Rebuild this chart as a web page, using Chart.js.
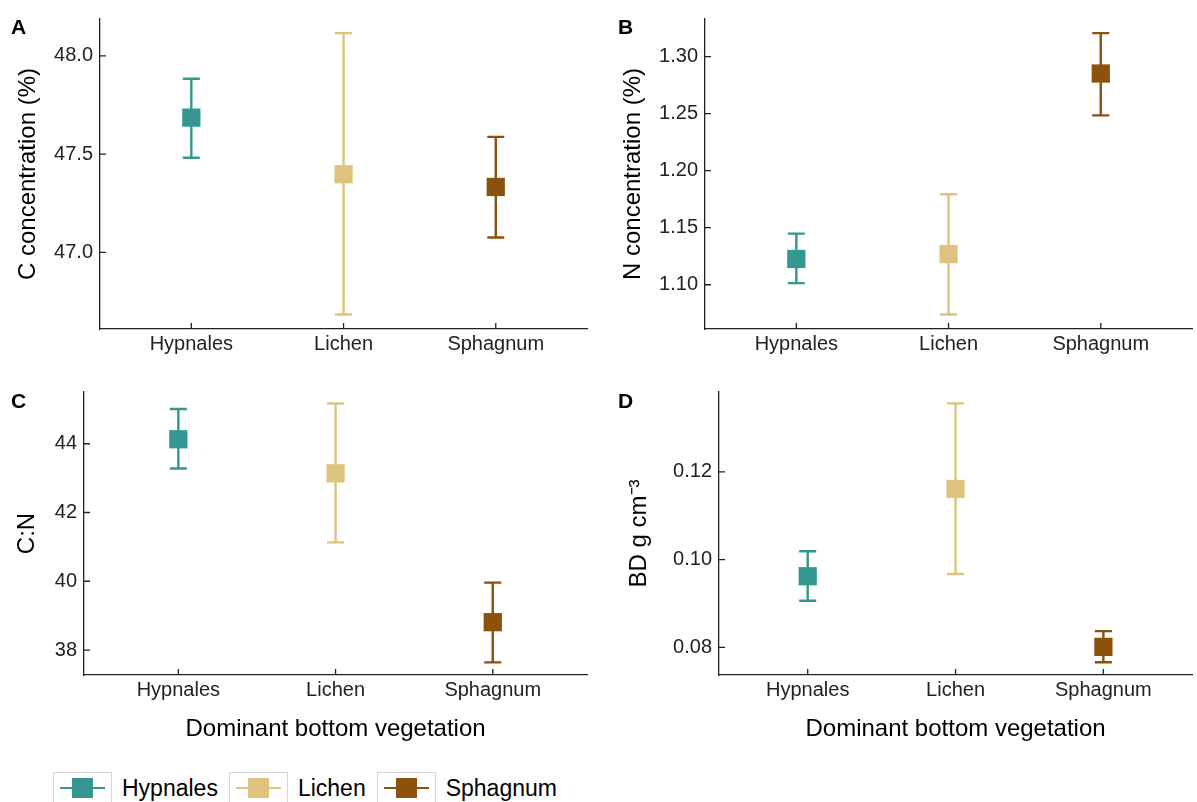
<!DOCTYPE html>
<html>
<head>
<meta charset="utf-8">
<script src="https://cdn.jsdelivr.net/npm/chart.js@4.4.1/dist/chart.umd.min.js"></script>
<style>
  body { margin: 0; background: #fff; width: 1197px; height: 802px; overflow: hidden; position: relative;
         font-family: "Liberation Sans", Arial, sans-serif; }
  canvas { position: absolute; }
  .tag { position: absolute; font-weight: bold; font-size: 21px; line-height: 1; color: #000; }
  #legend { position: absolute; left: 53px; top: 772px; display: flex; align-items: center; }
  .key { width: 57px; height: 30px; border: 1px solid #d6d6d6; position: relative; }
  .key .ln { position: absolute; left: 6px; right: 6px; top: 13.8px; height: 2.5px; }
  .key .sq { position: absolute; left: 18px; top: 5px; width: 21px; height: 20px; }
  .lbl { font-size: 23px; margin: 0 11px 0 10px; color: #000; }
</style>
</head>
<body>
<canvas id="chartC" width="600" height="372" style="left:0;top:0"></canvas>
<canvas id="chartN" width="605" height="372" style="left:600px;top:0"></canvas>
<canvas id="chartCN" width="600" height="388" style="left:0;top:372px"></canvas>
<canvas id="chartBD" width="605" height="388" style="left:600px;top:372px"></canvas>
<div class="tag" style="left:11px;top:16px">A</div>
<div class="tag" style="left:618px;top:16px">B</div>
<div class="tag" style="left:11px;top:390px">C</div>
<div class="tag" style="left:618px;top:390px">D</div>
<div id="legend"></div>
<script>
const groups = ["Hypnales", "Lichen", "Sphagnum"];
const groupColors = ["#35978f", "#dfc27d", "#8c510a"];

// C concentration (%)
const cMean = [47.686, 47.398, 47.333];
const cLow = [47.482, 46.684, 47.076];
const cHigh = [47.884, 48.116, 47.588];
const cTicks = [47.0, 47.5, 48.0];

// N concentration (%)
const nMean = [1.1226, 1.1269, 1.2852];
const nLow = [1.1014, 1.0739, 1.2485];
const nHigh = [1.1448, 1.1793, 1.3206];
const nTicks = [1.10, 1.15, 1.20, 1.25, 1.30];

// C:N ratio
const cnMean = [44.13, 43.14, 38.81];
const cnLow = [43.28, 41.13, 37.64];
const cnHigh = [45.01, 45.17, 39.96];
const cnTicks = [38, 40, 42, 44];

// bulk density
const bdMean = [0.0962, 0.1161, 0.0801];
const bdLow = [0.0906, 0.0967, 0.0766];
const bdHigh = [0.1019, 0.1356, 0.0837];
const bdTicks = [0.08, 0.10, 0.12];

const FONT = "'Liberation Sans', Arial, sans-serif";
const AXIS = "#222";

// vertical error bars with caps, drawn under the squares
const errorBars = {
  id: "errorBars",
  beforeDatasetsDraw(chart) {
    const { ctx } = chart;
    const x = chart.scales.x, y = chart.scales.y;
    ctx.save();
    ctx.lineWidth = 2.4;
    chart.data.datasets.forEach((ds) => {
      ds.data.forEach((pt, i) => {
        const px = x.getPixelForValue(pt.x);
        const top = y.getPixelForValue(ds.high[i]);
        const bot = y.getPixelForValue(ds.low[i]);
        ctx.strokeStyle = ds.borderColor;
        ctx.beginPath();
        ctx.moveTo(px, top); ctx.lineTo(px, bot);
        ctx.moveTo(px - 8.5, top); ctx.lineTo(px + 8.5, top);
        ctx.moveTo(px - 8.5, bot); ctx.lineTo(px + 8.5, bot);
        ctx.stroke();
      });
    });
    ctx.restore();
  }
};

// short tick marks pointing into the plot area
const innerTicks = {
  id: "innerTicks",
  afterDraw(chart) {
    const { ctx, chartArea } = chart;
    const x = chart.scales.x, y = chart.scales.y;
    ctx.save();
    ctx.strokeStyle = AXIS;
    ctx.lineWidth = 1.3;
    ctx.beginPath();
    x.ticks.forEach((t, i) => {
      const px = x.getPixelForTick(i);
      ctx.moveTo(px, chartArea.bottom);
      ctx.lineTo(px, chartArea.bottom - 6);
    });
    y.ticks.forEach((t, i) => {
      const py = y.getPixelForTick(i);
      ctx.moveTo(chartArea.left, py);
      ctx.lineTo(chartArea.left + 6, py);
    });
    ctx.stroke();
    ctx.restore();
  }
};

function makePanel(id, p) {
  new Chart(document.getElementById(id), {
    type: "scatter",
    data: {
      datasets: groups.map((g, i) => ({
        label: g,
        data: [{ x: i + 1, y: p.mean[i] }],
        low: [p.low[i]],
        high: [p.high[i]],
        backgroundColor: groupColors[i],
        borderColor: groupColors[i],
        pointStyle: "rect",
        pointRadius: 12.9,
        pointBorderWidth: 0,
        pointHoverRadius: 12.9,
      })),
    },
    options: {
      responsive: false,
      animation: false,
      layout: { padding: { top: p.padTop, right: p.padRight, left: 0, bottom: 0 } },
      plugins: { legend: { display: false }, tooltip: { enabled: false } },
      scales: {
        x: {
          type: "linear",
          min: 0.4,
          max: 3.6,
          afterBuildTicks: (s) => { s.ticks = groups.map((g, i) => ({ value: i + 1 })); },
          afterFit: (s) => { s.height = p.xHeight; },
          ticks: {
            callback: (v) => groups[Math.round(v) - 1],
            font: { family: FONT, size: 20 },
            color: "#222",
            padding: 3,
            maxRotation: 0,
            autoSkip: false,
          },
          grid: { drawOnChartArea: false, drawTicks: false },
          border: { color: AXIS, width: 1.3 },
          title: {
            display: !!p.xTitle,
            text: p.xTitle || "",
            color: "#000",
            font: { family: FONT, size: 24 },
            padding: { top: 0, bottom: 16 },
          },
        },
        y: {
          min: p.yMin,
          max: p.yMax,
          afterBuildTicks: (s) => { s.ticks = p.ticks.map((v) => ({ value: v })); },
          afterFit: (s) => { s.width = p.yWidth; },
          ticks: {
            callback: (v) => v.toFixed(p.digits),
            font: { family: FONT, size: 20 },
            color: "#222",
            padding: 7,
          },
          grid: { drawOnChartArea: false, drawTicks: false },
          border: { color: AXIS, width: 1.3 },
          title: {
            display: true,
            text: p.yTitle,
            color: "#000",
            font: { family: FONT, size: 24 },
            padding: { top: p.yTitlePad, bottom: 0 },
          },
        },
      },
    },
    plugins: [errorBars, innerTicks],
  });
}

makePanel("chartC", {
  mean: cMean, low: cLow, high: cHigh, ticks: cTicks, digits: 1,
  yMin: 46.61, yMax: 48.188, yTitle: "C concentration (%)",
  padTop: 16, padRight: 5, yWidth: 100, xHeight: 43, yTitlePad: 14,
});
makePanel("chartN", {
  mean: nMean, low: nLow, high: nHigh, ticks: nTicks, digits: 2,
  yMin: 1.0612, yMax: 1.333, yTitle: "N concentration (%)",
  padTop: 16, padRight: 2, yWidth: 105, xHeight: 43, yTitlePad: 19,
});
makePanel("chartCN", {
  mean: cnMean, low: cnLow, high: cnHigh, ticks: cnTicks, digits: 0,
  yMin: 37.274, yMax: 45.505, yTitle: "C:N", xTitle: "Dominant bottom vegetation",
  padTop: 20, padRight: 5, yWidth: 84, xHeight: 85, yTitlePad: 12.6,
});
makePanel("chartBD", {
  mean: bdMean, low: bdLow, high: bdHigh, ticks: bdTicks, digits: 2,
  yMin: 0.07369, yMax: 0.1382, yTitle: "BD g cm\u207B\u00B3", xTitle: "Dominant bottom vegetation",
  padTop: 20, padRight: 2, yWidth: 119, xHeight: 85, yTitlePad: 25,
});

// shared legend below the panels
const legend = document.getElementById("legend");
groups.forEach((g, i) => {
  const key = document.createElement("div");
  key.className = "key";
  key.innerHTML = `<div class="ln" style="background:${groupColors[i]}"></div>` +
    `<div class="sq" style="background:${groupColors[i]}"></div>`;
  const lbl = document.createElement("span");
  lbl.className = "lbl";
  lbl.textContent = g;
  legend.appendChild(key);
  legend.appendChild(lbl);
});
</script>
</body>
</html>
